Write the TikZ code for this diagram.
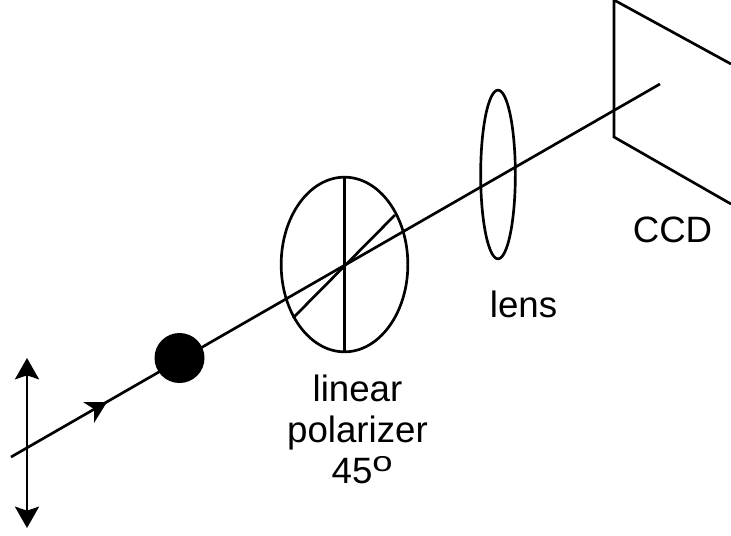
\documentclass[tikz,border=0pt]{standalone}
\usepackage{fontspec}
\setmainfont{Liberation Sans}
\usetikzlibrary{arrows.meta,shapes.geometric}
\begin{document}
\begin{tikzpicture}[x=0.75pt,y=-0.75pt,
  ln/.style={draw=black,line width=2pt},
  ring/.style={ellipse,draw=black,line width=2pt,inner sep=0pt,outer sep=0pt},
  lbl/.style={font=\fontsize{27.5}{30.75}\selectfont,text=black,align=center,inner sep=0pt}]
\useasboundingbox (0,0) rectangle (731,535);
\coordinate (beamA) at (11,457);
\coordinate (beamB) at (660,84);
\draw[ln] (beamA) -- (beamB);
\fill[black] (83,402) -- (107,402) -- (94,423) -- (94,409) -- cycle;
\coordinate (polT) at (27,358);
\coordinate (polB) at (27,528);
\draw[ln,{Stealth[length=16pt,width=18pt,inset=3pt]}-{Stealth[length=16pt,width=18pt,inset=3pt]}] (polT) -- (polB);
\node[circle,fill=black,minimum size=37.5pt,inner sep=0pt] (ball) at (179.5,358) {};
\node[ring,minimum width=95pt,minimum height=131pt] (polarizer) at (344.5,264.5) {};
\draw[ln] (polarizer.north) -- (polarizer.south);
\coordinate (diagA) at (293,318);
\coordinate (diagB) at (395,215);
\draw[ln] (diagA) -- (diagB);
\node[ring,minimum width=26pt,minimum height=126.5pt] (lens) at (498,174.5) {};
\coordinate (ccdT) at (614,0);
\coordinate (ccdB) at (614,137);
\coordinate (ccdTR) at (731,64);
\coordinate (ccdBR) at (731,204);
\draw[ln,line join=miter] (ccdTR) -- (ccdT) -- (ccdB) -- (ccdBR);
\node[lbl] (ccdlabel) at (672.5,230) {CCD};
\node[lbl,anchor=base] (lenslabel) at (523.5,317) {lens};
\node[lbl,anchor=north] (pollabel) at (357.5,375) {linear\\polarizer\\\hspace*{7pt}45{\fontsize{21}{21}\selectfont\raisebox{9pt}{\scalebox{1.3}[1]{o}}}};
\end{tikzpicture}
\end{document}
